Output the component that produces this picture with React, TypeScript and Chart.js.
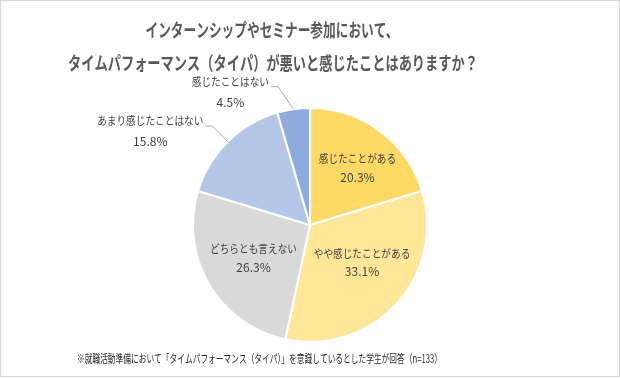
import React, { useEffect, useRef } from "react";
import { Chart, registerables } from "chart.js";

Chart.register(...registerables);

const categories = [
  "感じたことがある",
  "やや感じたことがある",
  "どちらとも言えない",
  "あまり感じたことはない",
  "感じたことはない",
];
const values = [20.3, 33.1, 26.3, 15.8, 4.5];
const colors = ["#FFD966", "#FFE699", "#D9D9D9", "#B4C7E7", "#8FAADC"];
const titleLines = [
  "インターンシップやセミナー参加において、",
  "タイムパフォーマンス（タイパ）が悪いと感じたことはありますか？",
];
const footnote =
  "※就職活動準備において「タイムパフォーマンス（タイパ）」を意識しているとした学生が回答（n=133）";

const FONT = '"Noto Sans CJK JP", "Noto Sans", sans-serif';

type Layout =
  | { type: "inside"; frac: number; dx: number; dy: number }
  | { type: "outside"; ex: number; ey: number };

const labelLayout: Layout[] = [
  { type: "inside", frac: 0.63, dx: 3.6, dy: 1.9 },
  { type: "inside", frac: 0.55, dx: 4.7, dy: -6 },
  { type: "inside", frac: 0.56, dx: 0, dy: 0 },
  { type: "outside", ex: -15.4, ey: -15.7 },
  { type: "outside", ex: -15.5, ey: -22.5 },
];

function drawScaled(
  ctx: CanvasRenderingContext2D,
  text: string,
  x: number,
  y: number,
  font: string,
  sx: number,
  color: string
) {
  ctx.save();
  ctx.font = font;
  ctx.fillStyle = color;
  ctx.textBaseline = "middle";
  ctx.textAlign = "center";
  ctx.translate(x, y);
  ctx.scale(sx, 1);
  ctx.fillText(text, 0, 0);
  ctx.restore();
}

function measureScaled(ctx: CanvasRenderingContext2D, text: string, font: string, sx: number) {
  ctx.save();
  ctx.font = font;
  const w = ctx.measureText(text).width * sx;
  ctx.restore();
  return w;
}

function drawFit(
  ctx: CanvasRenderingContext2D,
  text: string,
  x: number,
  y: number,
  font: string,
  width: number,
  color: string
) {
  const w = measureScaled(ctx, text, font, 1);
  drawScaled(ctx, text, x, y, font, width / w, color);
}

const textPlugin = {
  id: "customText",
  afterDraw(chart: any) {
    const ctx: CanvasRenderingContext2D = chart.ctx;
    // Title
    const titleFont = `bold 18.5px ${FONT}`;
    drawFit(ctx, titleLines[0], 271, 28.5, titleFont, 253, "#595959");
    drawFit(ctx, titleLines[1], 272, 61.5, titleFont, 410, "#595959");
    // Footnote
    drawFit(ctx, footnote, 258.5, 358, `11.5px ${FONT}`, 365, "#262626");

    // Labels
    const meta = chart.getDatasetMeta(0);
    const labFont = `11.5px ${FONT}`;
    const pctFont = `12px ${FONT}`;
    const labSx = 0.84;
    meta.data.forEach((arc: any, i: number) => {
      const p = arc.getProps(["x", "y", "startAngle", "endAngle", "outerRadius"], true);
      const mid = (p.startAngle + p.endAngle) / 2;
      const lay = labelLayout[i];
      const pct = values[i].toFixed(1) + "%";
      if (lay.type === "inside") {
        const r = p.outerRadius * lay.frac;
        const cx = p.x + Math.cos(mid) * r + lay.dx;
        const cy = p.y + Math.sin(mid) * r + lay.dy;
        drawScaled(ctx, categories[i], cx, cy - 9.3, labFont, labSx, "#404040");
        drawScaled(ctx, pct, cx, cy + 9.3, pctFont, 1, "#404040");
      } else {
        const ax = p.x + Math.cos(mid) * p.outerRadius;
        const ay = p.y + Math.sin(mid) * p.outerRadius;
        const bx = ax + lay.ex;
        const by = ay + lay.ey;
        const hx = bx - 7;
        ctx.save();
        ctx.strokeStyle = "#A6A6A6";
        ctx.lineWidth = 1;
        ctx.beginPath();
        ctx.moveTo(ax, ay);
        ctx.lineTo(bx, by);
        ctx.lineTo(hx, by);
        ctx.stroke();
        ctx.restore();
        const w = measureScaled(ctx, categories[i], labFont, labSx);
        const cx = hx - 2 - w / 2;
        const l1 = by - 5;
        drawScaled(ctx, categories[i], cx, l1, labFont, labSx, "#404040");
        drawScaled(ctx, pct, cx, l1 + 20.5, pctFont, 1, "#404040");
      }
    });
  },
};

export default function App() {
  const ref = useRef<HTMLCanvasElement | null>(null);
  useEffect(() => {
    document.body.style.margin = "0";
    if (!ref.current) return;
    const chart = new Chart(ref.current, {
      type: "pie",
      data: {
        labels: categories,
        datasets: [
          {
            data: values,
            backgroundColor: colors,
            borderColor: "#FFFFFF",
            borderWidth: 2,
            clip: false as any,
          },
        ],
      },
      options: {
        responsive: false,
        animation: false,
        radius: 117,
        layout: { padding: { left: 100, right: 100, top: 90, bottom: 17 } },
        plugins: {
          legend: { display: false },
          title: { display: false },
          tooltip: { enabled: false },
        },
      } as any,
      plugins: [textPlugin],
    });
    return () => chart.destroy();
  }, []);
  return (
    <div
      style={{
        width: 618,
        height: 375,
        border: "1px solid #D9D9D9",
        background: "#FFFFFF",
        position: "relative",
      }}
    >
      <canvas ref={ref} width={618} height={375} style={{ display: "block" }} />
    </div>
  );
}
